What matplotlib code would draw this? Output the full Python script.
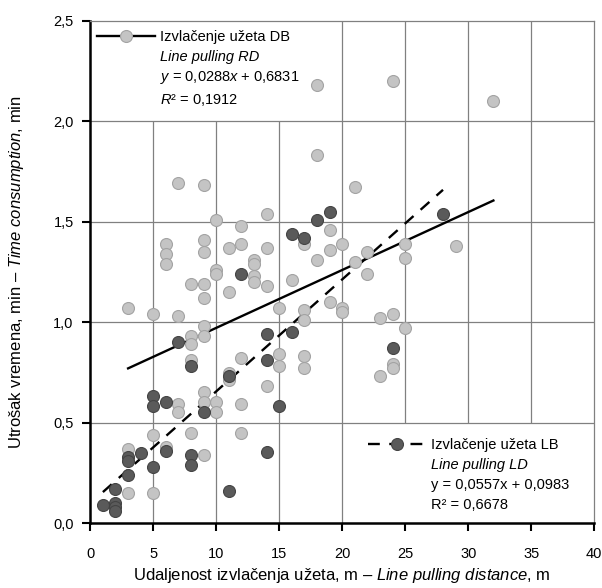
import numpy as np
import matplotlib
matplotlib.use("Agg")
import matplotlib.pyplot as plt
from matplotlib.lines import Line2D

plt.rcParams['font.family'] = ['Liberation Sans', 'DejaVu Sans']
plt.rcParams['mathtext.fontset'] = 'custom'
plt.rcParams['mathtext.rm'] = 'Liberation Sans'
plt.rcParams['mathtext.it'] = 'Liberation Sans:italic'

# Izvlačenje užeta DB (line pulling RD)
db_x = [3, 3, 3,
        5, 5, 5,
        6, 6, 6, 6,
        7, 7, 7, 7,
        8, 8, 8, 8, 8,
        9, 9, 9, 9, 9, 9, 9, 9, 9, 9,
        10, 10, 10, 10, 10,
        11, 11, 11, 11,
        12, 12, 12, 12, 12,
        13, 13, 13, 13,
        14, 14, 14, 14,
        15, 15, 15,
        16,
        17, 17, 17, 17, 17,
        18, 18, 18,
        19, 19, 19,
        20, 20, 20,
        21, 21,
        22, 22,
        23, 23,
        24, 24, 24, 24,
        25, 25, 25,
        29, 32]
db_y = [1.07, 0.37, 0.15,
        1.04, 0.44, 0.15,
        1.39, 1.34, 1.29, 0.38,
        1.69, 1.03, 0.59, 0.55,
        1.19, 0.93, 0.89, 0.81, 0.45,
        1.68, 1.41, 1.35, 1.19, 1.12, 0.98, 0.93, 0.65, 0.60, 0.34,
        1.51, 1.26, 1.24, 0.60, 0.55,
        1.37, 1.15, 0.745, 0.71,
        1.48, 1.39, 0.82, 0.59, 0.45,
        1.31, 1.29, 1.23, 1.20,
        1.54, 1.37, 1.18, 0.68,
        1.07, 0.84, 0.78,
        1.21,
        1.39, 1.06, 1.01, 0.83, 0.77,
        2.18, 1.83, 1.31,
        1.46, 1.36, 1.10,
        1.39, 1.07, 1.05,
        1.67, 1.30,
        1.35, 1.24,
        1.02, 0.73,
        2.20, 1.04, 0.79, 0.77,
        1.39, 1.32, 0.97,
        1.38, 2.10]

# Izvlačenje užeta LB (line pulling LD)
lb_x = [1, 2, 2, 2, 2, 3, 3, 3, 4, 5, 5, 5, 6, 6, 7, 8, 8, 8, 9,
        11, 11, 12, 14, 14, 14, 15, 16, 16, 17, 18, 19, 24, 28]
lb_y = [0.09, 0.17, 0.10, 0.08, 0.06, 0.33, 0.31, 0.24, 0.35, 0.63, 0.58, 0.28,
        0.60, 0.36, 0.90, 0.78, 0.34, 0.29, 0.55,
        0.73, 0.16, 1.24, 0.94, 0.81, 0.355, 0.58, 1.44, 0.95, 1.42, 1.51, 1.55,
        0.87, 1.54]

# trend lines as printed on the chart
db_fit = (0.0288, 0.6831)
lb_fit = (0.0557, 0.0983)

x_ticks = [0, 5, 10, 15, 20, 25, 30, 35, 40]
y_ticks = [0.0, 0.5, 1.0, 1.5, 2.0, 2.5]
y_tick_labels = ['0,0', '0,5', '1,0', '1,5', '2,0', '2,5']

db_labels = ['Izvlačenje užeta DB', 'Line pulling RD',
             '$y$ = 0,0288$x$ + 0,6831', '$R$² = 0,1912']
lb_labels = ['Izvlačenje užeta LB', 'Line pulling LD',
             'y = 0,0557x + 0,0983', 'R² = 0,6678']

light, light_edge = '#c4c4c4', '#a3a3a3'
dark, dark_edge = '#5a5a5a', '#444444'
grid_col = '#808080'
fs = 10.5

fig = plt.figure(figsize=(6.02, 5.88), dpi=100)
ax = fig.add_axes([0.150, 0.1105, 0.837, 0.8545])

# grid, leaving the two legend areas clear
for x in x_ticks[1:-1]:
    lo = 0.5 if x > 20 else 0.0
    hi = 2.0 if x < 20 else 2.5
    ax.vlines(x, lo, hi, color=grid_col, lw=0.9, zorder=0.5)
for y in y_ticks[1:-1]:
    ax.hlines(y, 0, 40, color=grid_col, lw=0.9, zorder=0.5)

xl = np.array([min(db_x), max(db_x)])
ax.plot(xl, db_fit[0] * xl + db_fit[1], color='k', lw=1.7, zorder=2)
xl2 = np.array([min(lb_x), max(lb_x)])
ax.plot(xl2, lb_fit[0] * xl2 + lb_fit[1], color='k', lw=1.7,
        ls=(0, (5, 4)), zorder=2)

ax.scatter(db_x, db_y, s=74, c=light, edgecolors=light_edge, linewidths=0.8, zorder=3)
ax.scatter(lb_x, lb_y, s=74, c=dark, edgecolors=dark_edge, linewidths=0.8, zorder=3)

ax.set_xlim(0, 40)
ax.set_ylim(0, 2.5)
ax.set_xticks(x_ticks)
ax.set_yticks(y_ticks)
ax.set_yticklabels(y_tick_labels)
ax.tick_params(direction='out', length=6, width=1.5, labelsize=fs, colors='k')
ax.tick_params(axis='x', pad=11)
ax.tick_params(axis='y', pad=6)
for s in ['left', 'bottom']:
    ax.spines[s].set_linewidth(1.8)
for s in ['top', 'right']:
    ax.spines[s].set_color(grid_col)
    ax.spines[s].set_linewidth(0.9)

ax.set_xlabel('Udaljenost izvlačenja užeta, m – $\\it{Line\\ pulling\\ distance}$, m',
              fontsize=12)
ax.set_ylabel('Utrošak vremena, min – $\\it{Time\\ consumption}$, min', fontsize=12)
ax.xaxis.set_label_coords(0.5, -0.086)
ax.yaxis.set_label_coords(-0.128, 0.5)

blank = Line2D([], [], ls='none')
h1 = Line2D([], [], color='k', lw=1.7, marker='o', ms=8.6,
            mfc=light, mec=light_edge, mew=0.8)
h2 = Line2D([], [], color='k', lw=1.7, ls=(0, (5, 4)), marker='o', ms=8.6,
            mfc=dark, mec=dark_edge, mew=0.8)

leg1 = ax.legend([h1, blank, blank, blank], db_labels, loc='upper left',
                 bbox_to_anchor=(0.013, 0.981), frameon=False, fontsize=fs,
                 handlelength=4.0, handletextpad=0.35, labelspacing=0.38,
                 borderpad=0, borderaxespad=0)
leg1.get_texts()[1].set_fontstyle('italic')
ax.add_artist(leg1)
leg2 = ax.legend([h2, blank, blank, blank], lb_labels, loc='upper left',
                 bbox_to_anchor=(0.551, 0.170), frameon=False, fontsize=fs,
                 handlelength=4.0, handletextpad=0.35, labelspacing=0.42,
                 borderpad=0, borderaxespad=0)
leg2.get_texts()[1].set_fontstyle('italic')

fig.savefig('out.png', dpi=100)
